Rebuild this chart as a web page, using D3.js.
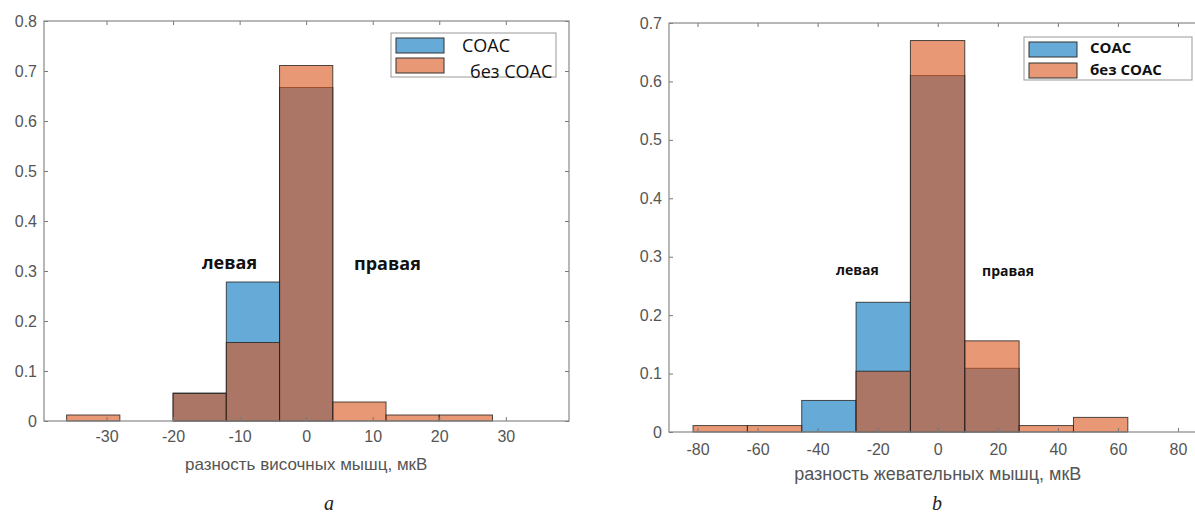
<!DOCTYPE html>
<html>
<head>
<meta charset="utf-8">
<script src="https://cdn.jsdelivr.net/npm/d3@7"></script>
<style>
  body { margin: 0; background: #fff; }
  svg { display: block; font-family: "Liberation Sans", Arial, sans-serif; }
  .tick text { fill: #555; }
  .domain { display: none; }
  .tick line { stroke: #777; }
</style>
</head>
<body>
<svg id="chart" width="1195" height="515"></svg>
<script>
// panel a: височные мышцы
var edgesA = [-36, -28, -20, -12, -4, 4, 12, 20, 28];
var soacA = [0, 0, 0.056, 0.278, 0.667, 0, 0, 0];
var bezA = [0.012, 0, 0.055, 0.157, 0.711, 0.038, 0.012, 0.012];
var xTicksA = [-30, -20, -10, 0, 10, 20, 30];
var yTicksA = [0, 0.1, 0.2, 0.3, 0.4, 0.5, 0.6, 0.7, 0.8];

// panel b: жевательные мышцы
var edgesB = [-81.5, -63.4, -45.3, -27.2, -9.1, 9, 27.1, 45.2, 63.3];
var soacB = [0, 0, 0.054, 0.222, 0.610, 0.109, 0, 0];
var bezB = [0.011, 0.011, 0, 0.104, 0.670, 0.156, 0.011, 0.025];
var xTicksB = [-80, -60, -40, -20, 0, 20, 40, 60, 80];
var yTicksB = [0, 0.1, 0.2, 0.3, 0.4, 0.5, 0.6, 0.7];

var legendNames = ["СОАС", "без СОАС"];
var colors = ["#0072BD", "#D95319"];

var svg = d3.select("#chart");

function yLabel(d) {
    return d === 0 ? "0" : d3.format(".1f")(d);
}
function xLabelFmt(d) {
    return String(d); // plain hyphen, as in the original
}

function drawPanel(p) {
    var x = d3.scaleLinear().domain(p.xDomain).range([p.left, p.right]);
    var y = d3.scaleLinear().domain(p.yDomain).range([p.bottom, p.top]);
    var g = svg.append("g");

    // bars: blue first, orange on top, both semi-transparent
    [p.soac, p.bez].forEach(function (vals, si) {
        var bins = vals.map(function (v, i) {
            return {x0: p.edges[i], x1: p.edges[i + 1], v: v};
        }).filter(function (d) { return d.v > 0; });
        g.append("g").selectAll("rect")
            .data(bins)
            .enter().append("rect")
            .attr("x", function (d) { return x(d.x0); })
            .attr("width", function (d) { return x(d.x1) - x(d.x0); })
            .attr("y", function (d) { return y(d.v); })
            .attr("height", function (d) { return y(0) - y(d.v); })
            .attr("fill", colors[si])
            .attr("fill-opacity", 0.6)
            .attr("stroke", "#222")
            .attr("stroke-opacity", 0.8)
            .attr("stroke-width", 1);
    });

    // axes with inward ticks
    g.append("g")
        .attr("transform", "translate(0," + p.bottom + ")")
        .call(d3.axisBottom(x).tickValues(p.xTicks).tickSize(-4).tickPadding(p.xPad).tickFormat(xLabelFmt))
        .selectAll("text").style("font-size", p.tickFont + "px");
    g.append("g")
        .attr("transform", "translate(0," + p.top + ")")
        .call(d3.axisTop(x).tickValues(p.xTicks).tickSize(-4).tickFormat(""));
    g.append("g")
        .attr("transform", "translate(" + p.left + ",0)")
        .call(d3.axisLeft(y).tickValues(p.yTicks).tickSize(-4).tickPadding(7).tickFormat(yLabel))
        .selectAll("text").style("font-size", p.tickFont + "px");
    g.append("g")
        .attr("transform", "translate(" + p.right + ",0)")
        .call(d3.axisRight(y).tickValues(p.yTicks).tickSize(-4).tickFormat(""));

    g.append("rect")
        .attr("x", p.left).attr("y", p.top)
        .attr("width", p.right - p.left).attr("height", p.bottom - p.top)
        .attr("fill", "none").attr("stroke", "#888").attr("stroke-width", 1.2);

    g.append("text")
        .attr("x", x(0)).attr("y", p.xLabelY)
        .attr("text-anchor", "middle")
        .style("font-size", p.labelFont + "px").style("fill", "#555")
        .text(p.xLabel);

    // side annotations
    p.notes.forEach(function (n) {
        g.append("text")
            .attr("x", n.x).attr("y", n.y)
            .style("font-size", p.noteFont + "px").style("font-weight", "bold")
            .style("font-family", "'Open Sans', sans-serif")
            .style("fill", "#111")
            .text(n.t);
    });

    // legend
    var lg = g.append("g");
    lg.append("rect")
        .attr("x", p.leg.x).attr("y", p.leg.y)
        .attr("width", p.leg.w).attr("height", p.leg.h)
        .attr("fill", "#fff").attr("stroke", "#999");
    legendNames.forEach(function (name, i) {
        lg.append("rect")
            .attr("x", p.leg.x + 5).attr("y", p.leg.y + 5 + i * p.leg.step)
            .attr("width", 48).attr("height", 15)
            .attr("fill", colors[i]).attr("fill-opacity", 0.6)
            .attr("stroke", "#333");
        lg.append("text")
            .attr("x", p.leg.tx[i]).attr("y", p.leg.ty[i])
            .style("font-size", p.leg.font + "px")
            .style("font-weight", p.leg.weight)
            .style("font-family", "'Open Sans', sans-serif")
            .style("fill", "#111")
            .text(name);
    });
}

drawPanel({
    edges: edgesA, soac: soacA, bez: bezA,
    xTicks: xTicksA, yTicks: yTicksA,
    xDomain: [-39.4, 39.5], yDomain: [0, 0.8],
    left: 44, right: 569, top: 21, bottom: 421,
    xPad: 10, tickFont: 16, labelFont: 17, noteFont: 18,
    xLabel: "разность височных мышц, мкВ", xLabelY: 470,
    notes: [{x: 202, y: 269, t: "левая"}, {x: 354, y: 270, t: "правая"}],
    leg: {x: 391, y: 33, w: 165, h: 44, step: 20, tx: [462, 470], ty: [52, 78], font: 18, weight: "normal"}
});

drawPanel({
    edges: edgesB, soac: soacB, bez: bezB,
    xTicks: xTicksB, yTicks: yTicksB,
    xDomain: [-89.5, 90], yDomain: [0, 0.7],
    left: 669, right: 1208, top: 23, bottom: 432,
    xPad: 12, tickFont: 16, labelFont: 18, noteFont: 14,
    xLabel: "разность жевательных мышц, мкВ", xLabelY: 480,
    notes: [{x: 836, y: 275, t: "левая"}, {x: 982, y: 276, t: "правая"}],
    leg: {x: 1024, y: 37, w: 168, h: 43, step: 21, tx: [1090, 1090], ty: [53, 75], font: 15, weight: "bold"}
});

// sub-figure letters
[{x: 329, t: "a"}, {x: 937, t: "b"}].forEach(function (d) {
    svg.append("text")
        .attr("x", d.x).attr("y", 510)
        .attr("text-anchor", "middle")
        .style("font-family", "'Liberation Serif', 'DejaVu Serif', serif")
        .style("font-style", "italic")
        .style("font-size", "20px")
        .style("fill", "#222")
        .text(d.t);
});
</script>
</body>
</html>
